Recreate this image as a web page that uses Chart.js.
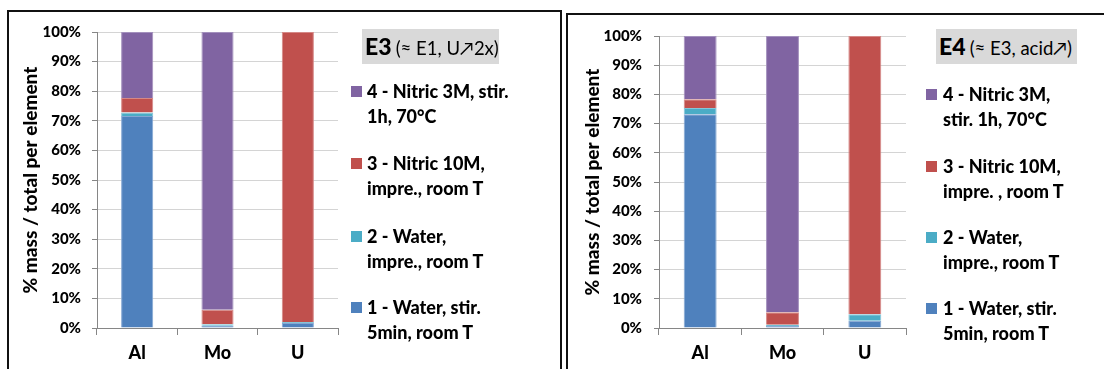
<!DOCTYPE html>
<html>
<head>
<meta charset="utf-8">
<script src="https://cdn.jsdelivr.net/npm/chart.js@4.4.1/dist/chart.umd.min.js"></script>
<style>
  html, body { margin: 0; padding: 0; background: #fff; }
  body { width: 1104px; height: 369px; position: relative; overflow: hidden; font-family: Lato, "Open Sans", sans-serif; }
  .frame { position: absolute; border: 2px solid #111; box-sizing: border-box; }
  canvas { position: absolute; }
  .tbox { position: absolute; background: #d9d9d9; color: #000; white-space: nowrap; box-sizing: border-box; }
  .tbox b { font-size: 23px; font-weight: 900; }
  .tbox span { font-size: 18.5px; font-weight: 400; }
  .item { position: absolute; font-weight: 900; font-size: 18px; line-height: 25px; color: #000; white-space: nowrap; }
  .sq { position: absolute; width: 11px; height: 11px; }
</style>
</head>
<body>
<div class="frame" style="left:7px;top:10px;width:555px;height:380px;"></div>
<div class="frame" style="left:566px;top:13px;width:560px;height:380px;"></div>
<canvas id="c3" width="550" height="357" style="left:9px;top:12px;width:550px;height:357px;"></canvas>
<canvas id="c4" width="533" height="354" style="left:569px;top:15px;width:533px;height:354px;"></canvas>
<div id="leg3"></div>
<div id="leg4"></div>
<script>
// Elements and extraction steps
const categories = ['Al', 'Mo', 'U'];
const tickValues = [0, 10, 20, 30, 40, 50, 60, 70, 80, 90, 100];

// E3 — share of each element recovered at each step (%)
const e3Step1 = [71.6, 0.8, 1.7];
const e3Step2 = [1.2, 0.5, 0.3];
const e3Step3 = [4.9, 4.9, 98.0];
const e3Step4 = [22.3, 93.8, 0.0];

// E4 — share of each element recovered at each step (%)
const e4Step1 = [73.2, 0.7, 2.5];
const e4Step2 = [2.1, 0.4, 2.2];
const e4Step3 = [3.0, 4.3, 95.3];
const e4Step4 = [21.7, 94.6, 0.0];

// Step names, one line per entry
const e3Labels = [
  ['1 - Water, stir.', '5min, room T'],
  ['2 - Water,', 'impre., room T'],
  ['3 - Nitric 10M,', 'impre., room T'],
  ['4 - Nitric 3M, stir.', '1h, 70°C']
];
const e4Labels = [
  ['1 - Water, stir.', '5min, room T'],
  ['2 - Water,', 'impre., room T'],
  ['3 - Nitric 10M,', 'impre. , room T'],
  ['4 - Nitric 3M,', 'stir. 1h, 70°C']
];

const yTitle = '% mass / total per element';
const colors = ['#4f81bd', '#4bacc6', '#c0504d', '#8064a2'];
const edges = ['#84a7d3', '#86c6d8', '#d58886', '#a390bd'];
const FONT = 'Lato, "Open Sans", sans-serif';

function makeChart(id, series, labels, geo) {
  const ctx = document.getElementById(id);
  return new Chart(ctx, {
    type: 'bar',
    data: {
      labels: categories,
      datasets: series.map((vals, i) => ({
        label: labels[i].join(' '),
        lines: labels[i],
        data: vals,
        backgroundColor: colors[i],
        borderColor: edges[i],
        borderWidth: { left: 1, right: 1, top: 1, bottom: 0 },
        borderSkipped: false,
        barPercentage: 0.4,
        categoryPercentage: 1.0
      }))
    },
    options: {
      responsive: false,
      animation: false,
      devicePixelRatio: 1,
      layout: { padding: { top: geo.top, right: geo.right, left: 0, bottom: 0 } },
      plugins: { legend: { display: false }, tooltip: { enabled: false } },
      scales: {
        x: {
          stacked: true,
          afterFit: s => { s.height = geo.xh; },
          grid: { display: true, drawOnChartArea: false, offset: true, tickLength: 7, tickColor: '#868686' },
          border: { color: '#868686', width: 1 },
          ticks: { color: '#000', padding: 7, font: { family: FONT, size: 18, weight: '900' } }
        },
        y: {
          stacked: true,
          min: 0, max: 100,
          afterFit: s => { s.width = geo.yw; },
          afterBuildTicks: s => { s.ticks = tickValues.map(v => ({ value: v })); },
          grid: { color: '#d4d4d4', tickLength: 5, tickColor: '#868686' },
          border: { color: '#868686', width: 1 },
          ticks: {
            color: '#000', padding: geo.tp,
            font: { family: FONT, size: 15, weight: '900' },
            callback: v => v + '%'
          },
          title: {
            display: true, text: yTitle, color: '#000',
            font: { family: FONT, size: 19, weight: '900' },
            padding: { top: geo.tt, bottom: 0 }
          }
        }
      }
    }
  });
}

// Legend beside each plot, built from the chart's own datasets (last step on top)
function buildLegend(el, chart, title, sub, geo) {
  const box = document.createElement('div');
  box.className = 'tbox';
  Object.assign(box.style, { left: geo.bx + 'px', top: geo.by + 'px', width: geo.bw + 'px', height: geo.bh + 'px', padding: '3px 0 0 3px' });
  box.innerHTML = '<b>' + title + '</b> <span>' + sub + '</span>';
  el.appendChild(box);
  const ds = chart.data.datasets.slice().reverse();
  ds.forEach((d, i) => {
    const cy = geo.rows[i];
    const sq = document.createElement('div');
    sq.className = 'sq';
    Object.assign(sq.style, { left: geo.sx + 'px', top: (cy - 5.5) + 'px', background: d.backgroundColor });
    el.appendChild(sq);
    const it = document.createElement('div');
    it.className = 'item';
    Object.assign(it.style, { left: geo.txt + 'px', top: (cy - 12.5) + 'px' });
    it.innerHTML = d.lines.map(l => '<div>' + l.replace(/&/g, '&amp;') + '</div>').join('');
    el.appendChild(it);
  });
}

const ch3 = makeChart('c3', [e3Step1, e3Step2, e3Step3, e3Step4], e3Labels,
  { top: 14, right: 221, yw: 88, xh: 41, tp: 11, tt: 10 });
const ch4 = makeChart('c4', [e4Step1, e4Step2, e4Step3, e4Step4], e4Labels,
  { top: 15, right: 196, yw: 90, xh: 41, tp: 12, tt: 12 });

buildLegend(document.getElementById('leg3'), ch3, 'E3', '(≈ E1, U↗2x)',
  { bx: 362, by: 29, bw: 137, bh: 35, sx: 351, txt: 367, rows: [91, 163, 236, 307] });
buildLegend(document.getElementById('leg4'), ch4, 'E4', '(≈ E3, acid↗)',
  { bx: 936, by: 29, bw: 141, bh: 35, sx: 926, txt: 943, rows: [94, 166, 237, 308] });
</script>
</body>
</html>
